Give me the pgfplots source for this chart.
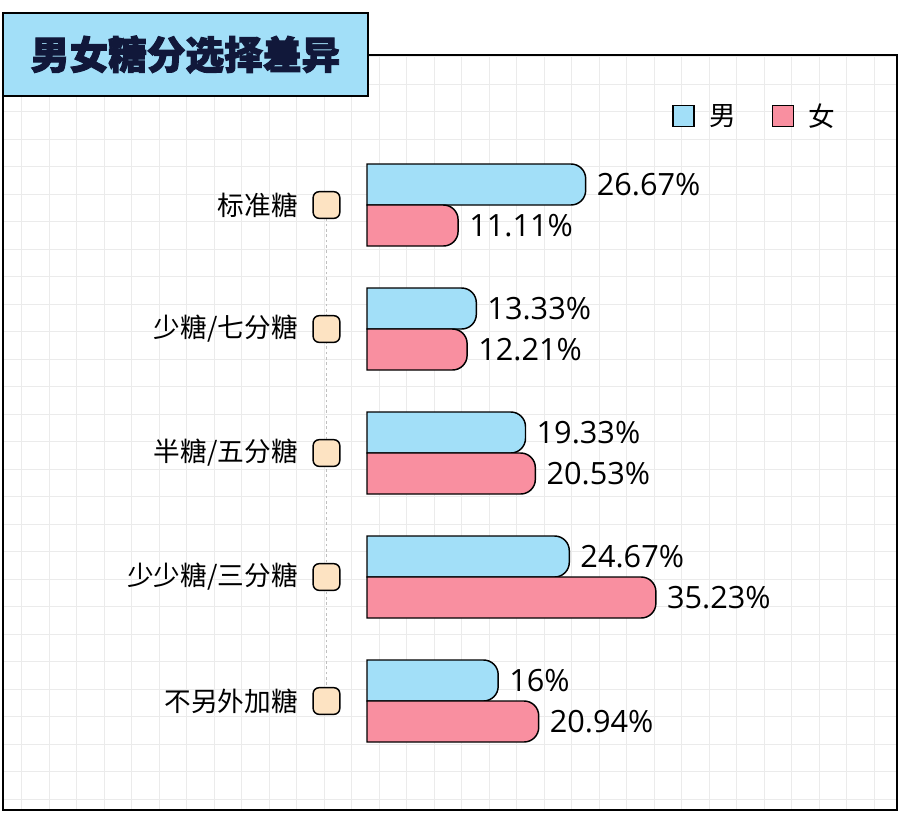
\documentclass[border=0pt]{standalone}
\usepackage{pgfplots}
\pgfplotsset{compat=1.18}
\usepackage{pgfplotstable}
\usepackage{fontspec}
\setmainfont{Noto Sans CJK SC}
\newfontfamily\titlef{Noto Sans CJK SC}[BoldFeatures={FakeBold=2.5}]
\newfontfamily\numf{Open Sans}
\definecolor{mblue}{HTML}{A2DFF8}
\definecolor{fpink}{HTML}{F98FA0}
\definecolor{tanc}{HTML}{FDE3C2}
\definecolor{navy}{HTML}{11183A}
\definecolor{gridc}{HTML}{EBEBEB}

\makeatletter
\newdimen\rbxa \newdimen\rbxb \newdimen\rbya \newdimen\rbyb
\newdimen\rbt \newdimen\rbr \newdimen\rbk
\newdimen\rbxm \newdimen\rbxq \newdimen\rbyl \newdimen\rbylq \newdimen\rbyh \newdimen\rbyhq
\def\rbradius{11pt}
\def\rb@core{%
  \ifdim\rbxb<\rbxa \rbt=\rbxa \rbxa=\rbxb \rbxb=\rbt \fi
  \ifdim\rbyb<\rbya \rbt=\rbya \rbya=\rbyb \rbyb=\rbt \fi
  \rbr=\rbradius\relax
  \rbt=\rbyb \advance\rbt by-\rbya \divide\rbt by 2
  \ifdim\rbr>\rbt \rbr=\rbt \fi
  \rbt=\rbxb \advance\rbt by-\rbxa
  \ifdim\rbr>\rbt \rbr=\rbt \fi
  \rbk=0.4477\rbr
  \rbxm=\rbxb \advance\rbxm by-\rbr
  \rbxq=\rbxb \advance\rbxq by-\rbk
  \rbyl=\rbya \advance\rbyl by\rbr
  \rbylq=\rbya \advance\rbylq by\rbk
  \rbyh=\rbyb \advance\rbyh by-\rbr
  \rbyhq=\rbyb \advance\rbyhq by-\rbk
  \pgfpathmoveto{\pgfqpoint{\rbxa}{\rbya}}%
  \pgfpathlineto{\pgfqpoint{\rbxm}{\rbya}}%
  \pgfpathcurveto{\pgfqpoint{\rbxq}{\rbya}}{\pgfqpoint{\rbxb}{\rbylq}}{\pgfqpoint{\rbxb}{\rbyl}}%
  \pgfpathlineto{\pgfqpoint{\rbxb}{\rbyh}}%
  \pgfpathcurveto{\pgfqpoint{\rbxb}{\rbyhq}}{\pgfqpoint{\rbxq}{\rbyb}}{\pgfqpoint{\rbxm}{\rbyb}}%
  \pgfpathlineto{\pgfqpoint{\rbxa}{\rbyb}}%
  \pgfpathclose}
\def\roundbarrect#1#2{%
  \pgf@process{#1}\rbxa=\pgf@x \rbya=\pgf@y
  \pgf@process{#2}\rbxb=\pgf@x \rbyb=\pgf@y
  \advance\rbxb by\rbxa \advance\rbyb by\rbya
  \rb@core}
\def\roundbarcorners#1#2{%
  \pgf@process{#1}\rbxa=\pgf@x \rbya=\pgf@y
  \pgf@process{#2}\rbxb=\pgf@x \rbyb=\pgf@y
  \rb@core}
% rounded square mark: half side 10pt, corner radius 4.5pt
\pgfdeclareplotmark{rsq}{%
  \pgfpathmoveto{\pgfqpoint{0pt}{-10pt}}%
  \pgfpathlineto{\pgfqpoint{5.5pt}{-10pt}}%
  \pgfpathcurveto{\pgfqpoint{7.99pt}{-10pt}}{\pgfqpoint{10pt}{-7.99pt}}{\pgfqpoint{10pt}{-5.5pt}}%
  \pgfpathlineto{\pgfqpoint{10pt}{5.5pt}}%
  \pgfpathcurveto{\pgfqpoint{10pt}{7.99pt}}{\pgfqpoint{7.99pt}{10pt}}{\pgfqpoint{5.5pt}{10pt}}%
  \pgfpathlineto{\pgfqpoint{-5.5pt}{10pt}}%
  \pgfpathcurveto{\pgfqpoint{-7.99pt}{10pt}}{\pgfqpoint{-10pt}{7.99pt}}{\pgfqpoint{-10pt}{5.5pt}}%
  \pgfpathlineto{\pgfqpoint{-10pt}{-5.5pt}}%
  \pgfpathcurveto{\pgfqpoint{-10pt}{-7.99pt}}{\pgfqpoint{-7.99pt}{-10pt}}{\pgfqpoint{-5.5pt}{-10pt}}%
  \pgfpathclose
  \pgfusepathqfillstroke}
\makeatother

\pgfplotstableread{
y male female
4 26.67 11.11
3 13.33 12.21
2 19.33 20.53
1 24.67 35.23
0 16 20.94
}\sugardata

\newcommand\bigf{\fontsize{20}{24}\selectfont}
\newcommand\numfont{\numf\fontsize{23}{27}\selectfont}

\begin{document}
\begin{tikzpicture}
\useasboundingbox (0,0) rectangle (675pt,-613.5pt);
\fill[white] (0,0) rectangle (675pt,-613.5pt);
% background grid
\begin{axis}[
  at={(2.25pt,-607.5pt)}, anchor=south west,
  scale only axis, width=670.5pt, height=566.25pt,
  xmin=3, xmax=897, ymin=8, ymax=763,
  xtick={21.7,49.2,...,890}, ytick={18.7,46.2,...,760},
  xticklabels={}, yticklabels={},
  major tick length=0pt,
  grid=major, major grid style={draw=gridc, line width=0.75pt},
  axis line style={draw=black, line width=1.2pt},
]
\addplot[draw=none] coordinates {(3,8)};
\end{axis}
% main chart
\begin{axis}[
  at={(275.25pt,-572.25pt)}, anchor=south west,
  scale only axis, width=369pt, height=465pt,
  xmin=0, xmax=60, ymin=-0.5, ymax=4.5,
  clip=false,
  axis line style={draw=none},
  xtick=\empty,
  ytick={0,1,2,3,4},
  yticklabels={不另外加糖,少少糖/三分糖,半糖/五分糖,少糖/七分糖,标准糖},
  major tick length=0pt,
  yticklabel style={anchor=east, inner sep=0pt, xshift=-51.75pt, font=\bigf},
  legend style={at={(0.62,1.0435)}, anchor=west, draw=none, fill=none,
    inner sep=0pt, font=\bigf, nodes={inner sep=0pt},
    /tikz/every odd column/.append style={column sep=11pt},
    /tikz/every even column/.append style={column sep=27pt}},
  legend columns=2,
]
\addplot[forget plot, draw=gray!50, line width=0.6pt, dash pattern=on 2pt off 2pt]
  coordinates {(-4.94,0) (-4.94,4)};
\addplot[forget plot, only marks, mark=rsq, mark options={fill=tanc, draw=black, line width=1.1pt}]
  coordinates {(-4.94,0) (-4.94,1) (-4.94,2) (-4.94,3) (-4.94,4)};
\addplot[xbar, bar width=30.75pt, bar shift=15.375pt, fill=mblue, draw=black, line width=1.1pt,
  /utils/exec={\let\pgfpathrectangle\roundbarrect\let\pgfpathrectanglecorners\roundbarcorners},
  point meta=x,
  nodes near coords={\pgfmathprintnumber[assume math mode=true]{\pgfplotspointmeta}\%},
  nodes near coords style={font=\numfont, anchor=west, xshift=4.5pt, yshift=15.375pt, text=black},
  legend image code/.code={\draw[fill=mblue, draw=black, line width=1pt] (0pt,-7.9pt) -- (15.75pt,-7.9pt) -- (15.75pt,7.9pt) -- (0pt,7.9pt) -- cycle;}]
  table[x=male, y=y] {\sugardata};
\addlegendentry{男}
\addplot[xbar, bar width=30.75pt, bar shift=-15.375pt, fill=fpink, draw=black, line width=1.1pt,
  /utils/exec={\let\pgfpathrectangle\roundbarrect\let\pgfpathrectanglecorners\roundbarcorners},
  point meta=x,
  nodes near coords={\pgfmathprintnumber[assume math mode=true]{\pgfplotspointmeta}\%},
  nodes near coords style={font=\numfont, anchor=west, xshift=4.5pt, yshift=-15.375pt, text=black},
  legend image code/.code={\draw[fill=fpink, draw=black, line width=1pt] (0pt,-7.9pt) -- (15.75pt,-7.9pt) -- (15.75pt,7.9pt) -- (0pt,7.9pt) -- cycle;}]
  table[x=female, y=y] {\sugardata};
\addlegendentry{女}
\end{axis}
% title box
\node[draw=black, line width=1.5pt, fill=mblue, minimum width=273.75pt, minimum height=62.25pt,
  anchor=north west, inner sep=0pt, font=\fontsize{29}{34}\selectfont\titlef\bfseries, text=navy]
  at (1.5pt,-9pt) {男女糖分选择差异};
\end{tikzpicture}
\end{document}
